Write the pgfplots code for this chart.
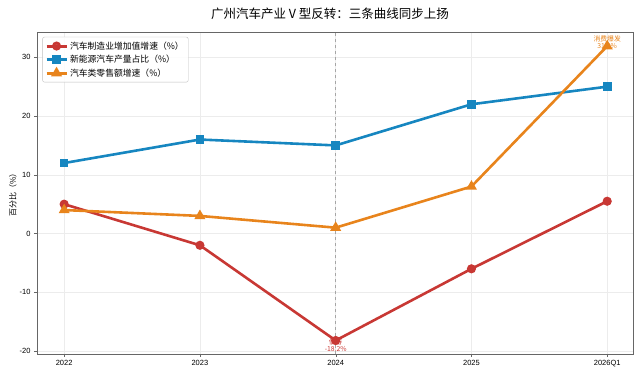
\documentclass[border=0pt]{standalone}
\usepackage{pgfplots}
\pgfplotsset{compat=1.18}
\usepackage{fontspec}
\setmainfont{Liberation Sans}
\newfontfamily\cjk{Noto Sans CJK SC}
\definecolor{cred}{RGB}{200,56,52}
\definecolor{cblue}{RGB}{22,134,192}
\definecolor{corange}{RGB}{232,132,28}
\begin{document}
\begin{tikzpicture}[x=1pt,y=1pt]
\begin{axis}[
  at={(0,0)}, anchor=south west,
  scale only axis, width=596pt, height=322pt,
  xmin=-0.2, xmax=4.19, ymin=-20.5, ymax=34.3,
  xtick={0,1,2,3,4}, xticklabels={2022,2023,2024,2025,2026Q1},
  ytick={-20,-10,0,10,20,30},
  tick label style={font=\fontsize{7.5}{8}\selectfont},
  /pgf/number format/assume math mode=true,
  grid=major, major grid style={gray!15, line width=0.5pt},
  axis line style={gray!80!black, line width=0.8pt},
  tick style={gray!80!black},
  tick align=outside, major tick length=3pt,
  xtick pos=bottom, ytick pos=left,
  ylabel={\cjk 百分比（\%）}, ylabel style={font=\fontsize{8}{9}\selectfont, yshift=-4pt},
  legend style={at={(0.009,0.985)}, anchor=north west, font=\cjk\fontsize{8.8}{13}\selectfont,
    draw=gray!50, rounded corners=2pt, fill=white, fill opacity=0.85, text opacity=1,
    row sep=0.5pt, inner sep=2.5pt},
  legend cell align=left,
  legend image code/.code={\draw[#1, line width=3pt] (0pt,0pt) -- (20pt,0pt); \draw[#1, mark repeat=1] plot coordinates {(10pt,0pt)};},
]
\draw[gray!70, dashed, line width=0.8pt] (axis cs:2,-20.5) -- (axis cs:2,34.3);
\addplot[cred, line width=2.6pt, mark=*, mark size=3.2pt, mark options={solid}] coordinates {(0,5.0) (1,-2.0) (2,-18.2) (3,-6.0) (4,5.5)};
\addlegendentry{汽车制造业增加值增速（\%）}
\addplot[cblue, line width=2.6pt, mark=square*, mark size=3.0pt, mark options={solid}] coordinates {(0,12) (1,16) (2,15) (3,22) (4,25)};
\addlegendentry{新能源汽车产量占比（\%）}
\addplot[corange, line width=2.6pt, mark=triangle*, mark size=3.8pt, mark options={solid}] coordinates {(0,4) (1,3) (2,1) (3,8) (4,31.9)};
\addlegendentry{汽车类零售额增速（\%）}
\node[cred, font=\cjk\fontsize{6.8}{7.5}\selectfont, align=center, anchor=north, inner sep=0pt] at (axis cs:2,-17.8) {低谷\\-18.2\%};
\node[corange, font=\cjk\fontsize{6.8}{7.5}\selectfont, align=center, anchor=south, inner sep=0pt] at (axis cs:4,31.4) {消费爆发\\31.9\%};
\end{axis}
\node[font=\cjk\fontsize{12.5}{14}\selectfont, anchor=center] at (293pt,340pt) {广州汽车产业 V 型反转：三条曲线同步上扬};
\pgfresetboundingbox
\path (-37pt,-22pt) rectangle (603pt,354pt);
\end{tikzpicture}
\end{document}
